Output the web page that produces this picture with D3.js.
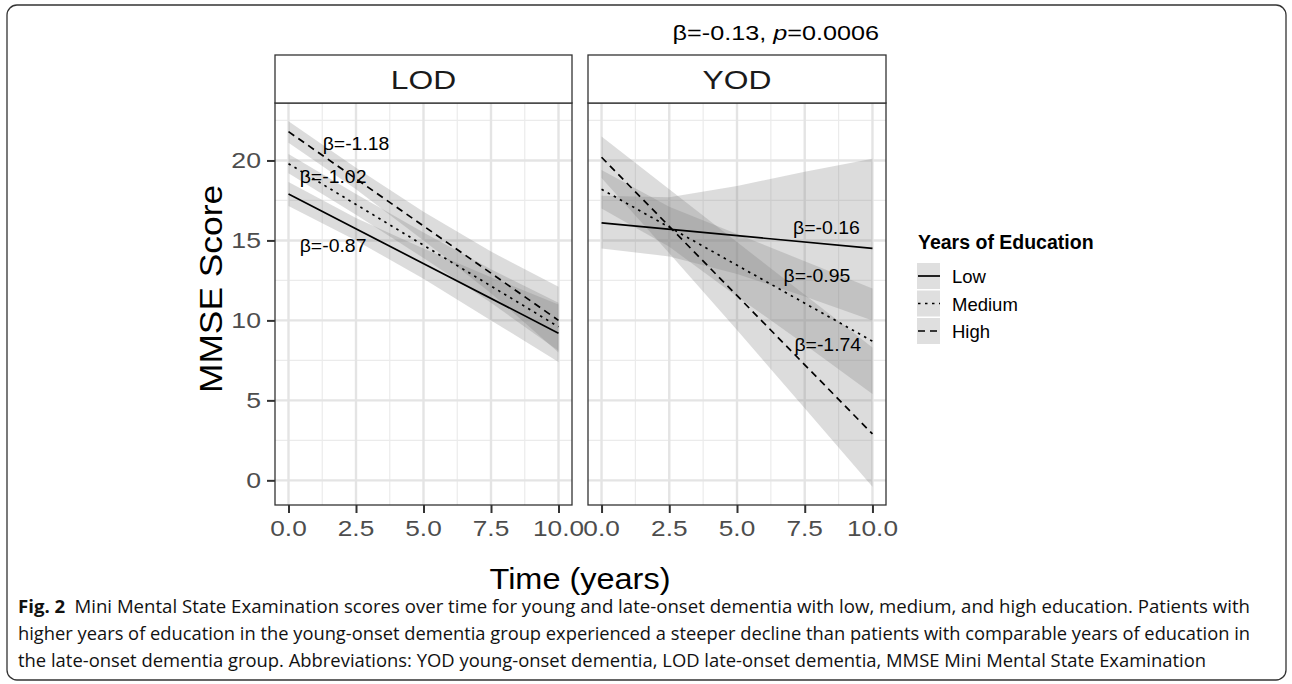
<!DOCTYPE html>
<html>
<head>
<meta charset="utf-8">
<script src="https://cdn.jsdelivr.net/npm/d3@7"></script>
<style>
  body { margin: 0; background: #fff; }
  text { font-family: "Liberation Sans", Arimo, Arial, sans-serif; }
</style>
</head>
<body>
<svg id="chart" width="1292" height="684"></svg>
<script>
// data
const panels = ["LOD", "YOD"];
const groups = ["Low", "Medium", "High"];
const lineTimes = [0, 10];
const lodLow = [17.9, 9.2];
const lodMedium = [19.8, 9.6];
const lodHigh = [21.8, 10.0];
const yodLow = [16.1, 14.5];
const yodMedium = [18.2, 8.7];
const yodHigh = [20.2, 2.9];

// confidence bands, read at these times
const bandTimes = [0, 2.5, 5, 7.5, 10];
const lodLowLo = [17.15, 15.0, 12.6, 10.0, 7.4];
const lodLowHi = [18.65, 16.4, 14.5, 12.7, 11.0];
const lodMediumLo = [19.2, 16.6, 13.9, 11.1, 8.1];
const lodMediumHi = [20.4, 17.9, 15.5, 13.2, 11.1];
const lodHighLo = [21.1, 18.2, 15.0, 11.7, 8.0];
const lodHighHi = [22.45, 19.55, 16.8, 14.3, 12.1];
const yodLowLo = [14.5, 14.0, 12.9, 11.5, 10.0];
const yodLowHi = [17.8, 17.7, 18.4, 19.3, 20.1];
const yodMediumLo = [17.0, 14.6, 11.5, 8.5, 5.4];
const yodMediumHi = [19.4, 17.1, 15.4, 13.7, 12.0];
const yodHighLo = [18.9, 14.2, 9.4, 4.5, -0.4];
const yodHighHi = [21.5, 18.2, 14.9, 11.6, 8.3];

// slope labels: [text, time, score]
const lodLabels = [["β=-1.18", 2.5, 21.1], ["β=-1.02", 1.65, 19.0], ["β=-0.87", 1.65, 14.7]];
const yodLabels = [["β=-0.16", 8.3, 15.8], ["β=-0.95", 7.95, 12.8], ["β=-1.74", 8.35, 8.5]];

const xTicks = [0, 2.5, 5, 7.5, 10];
const xMinor = [1.25, 3.75, 6.25, 8.75];
const yTicks = [0, 5, 10, 15, 20];
const yMinor = [2.5, 7.5, 12.5, 17.5, 22.5];

const captionLines = [
  "Mini Mental State Examination scores over time for young and late-onset dementia with low, medium, and high education. Patients with",
  "higher years of education in the young-onset dementia group experienced a steeper decline than patients with comparable years of education in",
  "the late-onset dementia group. Abbreviations: YOD young-onset dementia, LOD late-onset dementia, MMSE Mini Mental State Examination"
];

const svg = d3.select("#chart");

// figure frame
svg.append("rect")
  .attr("x", 7).attr("y", 5).attr("width", 1279).attr("height", 675)
  .attr("rx", 10).attr("ry", 10)
  .attr("fill", "none").attr("stroke", "#333").attr("stroke-width", 1.3);

function txt(g, x, y, s, size, sx, anchor) {
  return g.append("text")
    .attr("transform", "translate(" + x + "," + y + ") scale(" + sx + ",1)")
    .attr("text-anchor", anchor || "middle")
    .style("font-size", size + "px")
    .text(s);
}

const allVals = [].concat(lodLowLo, lodLowHi, lodMediumHi, lodHighHi, yodLowHi, yodHighLo, yodHighHi);
const ext = d3.extent(allVals);
const pad = (ext[1] - ext[0]) * 0.05;
const y = d3.scaleLinear().domain([ext[0] - pad, ext[1] + pad]).range([505, 103]);

const panelX = [[275, 572], [588, 886]];
const stripTop = 55;

const lineData = {
  LOD: [lodLow, lodMedium, lodHigh],
  YOD: [yodLow, yodMedium, yodHigh]
};
const bandData = {
  LOD: [[lodLowLo, lodLowHi], [lodMediumLo, lodMediumHi], [lodHighLo, lodHighHi]],
  YOD: [[yodLowLo, yodLowHi], [yodMediumLo, yodMediumHi], [yodHighLo, yodHighHi]]
};
const labelData = { LOD: lodLabels, YOD: yodLabels };
const dashes = { Low: null, Medium: "2.5,4.5", High: "7,5" };

panels.forEach(function(p, pi) {
  const x = d3.scaleLinear().domain([-0.5, 10.5]).range(panelX[pi]);
  const g = svg.append("g");
  const x0 = panelX[pi][0], x1 = panelX[pi][1];

  // grid
  g.selectAll(".xmin").data(xMinor).enter().append("line")
    .attr("x1", d => x(d)).attr("x2", d => x(d))
    .attr("y1", y.range()[1]).attr("y2", y.range()[0])
    .attr("stroke", "#ebebeb").attr("stroke-width", 1.2);
  g.selectAll(".ymin").data(yMinor).enter().append("line")
    .attr("x1", x0).attr("x2", x1)
    .attr("y1", d => y(d)).attr("y2", d => y(d))
    .attr("stroke", "#ebebeb").attr("stroke-width", 1.2);
  g.selectAll(".xmaj").data(xTicks).enter().append("line")
    .attr("x1", d => x(d)).attr("x2", d => x(d))
    .attr("y1", y.range()[1]).attr("y2", y.range()[0])
    .attr("stroke", "#e4e4e4").attr("stroke-width", 2.4);
  g.selectAll(".ymaj").data(yTicks).enter().append("line")
    .attr("x1", x0).attr("x2", x1)
    .attr("y1", d => y(d)).attr("y2", d => y(d))
    .attr("stroke", "#e4e4e4").attr("stroke-width", 2.4);

  // ribbons
  const area = d3.area()
    .x(d => x(d[0])).y0(d => y(d[1])).y1(d => y(d[2]));
  bandData[p].forEach(function(b) {
    g.append("path")
      .datum(bandTimes.map((t, i) => [t, b[0][i], b[1][i]]))
      .attr("d", area)
      .attr("fill", "#7f7f7f").attr("fill-opacity", 0.27);
  });

  // regression lines
  const line = d3.line().x(d => x(d[0])).y(d => y(d[1]));
  lineData[p].forEach(function(vals, gi) {
    g.append("path")
      .datum(lineTimes.map((t, i) => [t, vals[i]]))
      .attr("d", line)
      .attr("fill", "none").attr("stroke", "#000")
      .attr("stroke-width", 1.7)
      .attr("stroke-dasharray", dashes[groups[gi]]);
  });

  // slope labels
  labelData[p].forEach(function(l) {
    txt(g, x(l[1]), y(l[2]) + 6.8, l[0], 18.5, 1.05);
  });

  // panel border
  g.append("rect")
    .attr("x", x0).attr("y", y.range()[1])
    .attr("width", x1 - x0).attr("height", y.range()[0] - y.range()[1])
    .attr("fill", "none").attr("stroke", "#333").attr("stroke-width", 1.3);

  // strip
  g.append("rect")
    .attr("x", x0).attr("y", stripTop)
    .attr("width", x1 - x0).attr("height", y.range()[1] - stripTop)
    .attr("fill", "#fff").attr("stroke", "#333").attr("stroke-width", 1.3);
  txt(g, (x0 + x1) / 2, stripTop + 34, p, 26.5, 1.2).attr("fill", "#1a1a1a");

  // x axis
  const xa = svg.append("g")
    .attr("transform", "translate(0," + y.range()[0] + ")")
    .call(d3.axisBottom(x).tickValues(xTicks).tickSize(8));
  xa.select(".domain").remove();
  xa.selectAll(".tick line").attr("stroke", "#333").attr("stroke-width", 2);
  xa.selectAll(".tick text").remove();
  xTicks.forEach(function(t) {
    txt(xa, x(t), 31, d3.format(".1f")(t), 21.5, 1.22).attr("fill", "#4d4d4d");
  });

  // y axis on left panel only
  if (pi === 0) {
    const ya = svg.append("g")
      .attr("transform", "translate(" + x0 + ",0)")
      .call(d3.axisLeft(y).tickValues(yTicks).tickSize(8));
    ya.select(".domain").remove();
    ya.selectAll(".tick line").attr("stroke", "#333").attr("stroke-width", 2);
    ya.selectAll(".tick text").remove();
    yTicks.forEach(function(t) {
      txt(ya, -14, y(t) + 7.7, String(t), 21.5, 1.24, "end").attr("fill", "#4d4d4d");
    });
  }
});

// axis titles
txt(svg, 580, 589, "Time (years)", 29, 1.12);
svg.append("text")
  .attr("transform", "translate(222,289) rotate(-90) scale(1.14,1)")
  .attr("text-anchor", "middle")
  .style("font-size", "31px")
  .text("MMSE Score");

// overall interaction annotation
const ann = svg.append("text")
  .attr("transform", "translate(879,40) scale(1.2,1)")
  .attr("text-anchor", "end")
  .style("font-size", "21px");
ann.append("tspan").text("β=-0.13, ");
ann.append("tspan").style("font-style", "italic").text("p");
ann.append("tspan").text("=0.0006");

// legend
const leg = svg.append("g");
leg.append("text")
  .attr("x", 918).attr("y", 249)
  .style("font-size", "19.5px").style("font-weight", "bold")
  .text("Years of Education");
groups.forEach(function(gname, i) {
  const ky = 263 + i * 27.5;
  leg.append("rect")
    .attr("x", 917).attr("y", ky).attr("width", 23).attr("height", 26)
    .attr("fill", "#7f7f7f").attr("fill-opacity", 0.25);
  leg.append("line")
    .attr("x1", 918).attr("x2", 940).attr("y1", ky + 13).attr("y2", ky + 13)
    .attr("stroke", "#000").attr("stroke-width", 1.7)
    .attr("stroke-dasharray", dashes[gname]);
  leg.append("text")
    .attr("x", 952).attr("y", ky + 20)
    .style("font-size", "18.5px")
    .text(gname);
});

// caption
const capWidths = [1232, 1232, 1188];
captionLines.forEach(function(s, i) {
  const t = svg.append("text")
    .attr("x", 18).attr("y", 613 + i * 26.8)
    .attr("textLength", capWidths[i]).attr("lengthAdjust", "spacingAndGlyphs")
    .style("font-family", "'Open Sans', sans-serif")
    .style("font-size", "17.5px")
    .attr("fill", "#111");
  if (i === 0) {
    t.append("tspan").style("font-weight", "bold").text("Fig. 2");
    t.append("tspan").text("\u2002" + s);
  } else {
    t.text(s);
  }
});
</script>
</body>
</html>
